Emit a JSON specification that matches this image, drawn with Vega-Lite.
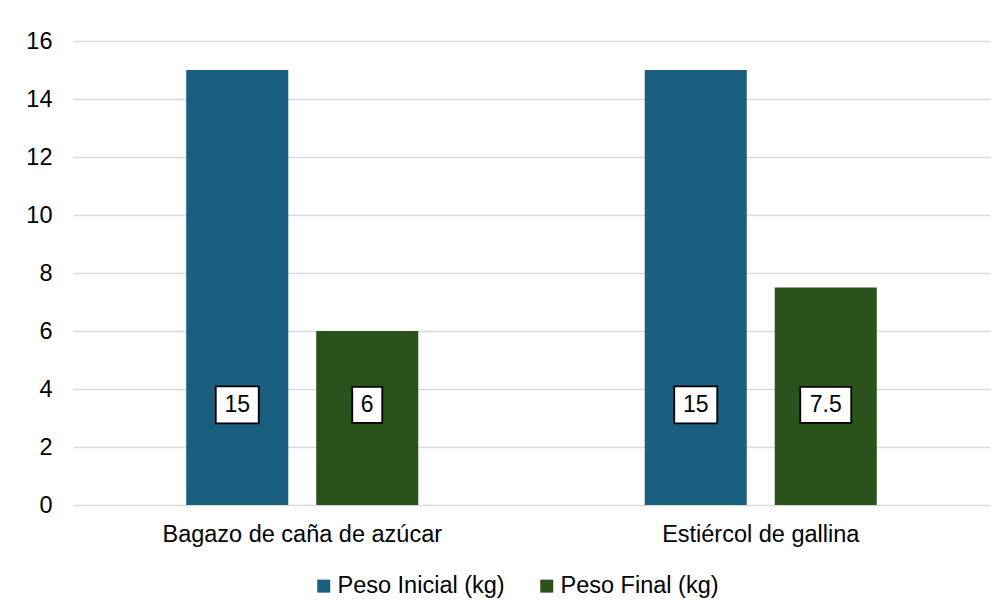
{
  "$schema": "https://vega.github.io/schema/vega-lite/v6.json",
  "width": 917,
  "height": 464,
  "autosize": {"type": "none"},
  "padding": {"left": 73, "top": 41, "right": 18, "bottom": 109},
  "background": "white",
  "config": {
    "font": "Liberation Sans",
    "view": {"stroke": null},
    "axis": {"labelColor": "#000000", "labelFont": "Liberation Sans", "labelFontSize": 23.5, "labelLimit": 500, "domain": false, "ticks": false, "tickSize": 0, "title": null},
    "legend": {"labelColor": "#000000", "labelFont": "Liberation Sans", "labelFontSize": 23.5, "labelLimit": 400}
  },
  "data": {
    "values": [
      {"material": "Bagazo de caña de azúcar", "tipo": "Peso Inicial (kg)", "peso": 15},
      {"material": "Bagazo de caña de azúcar", "tipo": "Peso Final (kg)", "peso": 6},
      {"material": "Estiércol de gallina", "tipo": "Peso Inicial (kg)", "peso": 15},
      {"material": "Estiércol de gallina", "tipo": "Peso Final (kg)", "peso": 7.5}
    ]
  },
  "encoding": {
    "x": {
      "field": "material",
      "type": "nominal",
      "sort": ["Bagazo de caña de azúcar", "Estiércol de gallina"],
      "scale": {"paddingInner": 0, "paddingOuter": 0},
      "axis": {"labelAngle": 0, "labelPadding": 36, "labelBaseline": "alphabetic", "grid": false, "labelLimit": 500}
    },
    "xOffset": {
      "field": "tipo",
      "type": "nominal",
      "sort": ["Peso Inicial (kg)", "Peso Final (kg)"],
      "scale": {"paddingInner": 0.215, "paddingOuter": 0.871}
    }
  },
  "layer": [
    {
      "mark": {"type": "bar"},
      "encoding": {
        "y": {
          "field": "peso",
          "type": "quantitative",
          "scale": {"domain": [0, 16], "nice": false},
          "axis": {"values": [0, 2, 4, 6, 8, 10, 12, 14, 16], "grid": true, "gridColor": "#d9d9d9", "gridWidth": 1.5, "labelPadding": 21}
        },
        "color": {
          "field": "tipo",
          "type": "nominal",
          "sort": ["Peso Inicial (kg)", "Peso Final (kg)"],
          "scale": {"domain": ["Peso Inicial (kg)", "Peso Final (kg)"], "range": ["#1A5F7F", "#2A521A"]},
          "legend": {
            "title": null,
            "orient": "none",
            "direction": "horizontal",
            "legendX": 239,
            "legendY": 533,
            "symbolType": "square",
            "symbolSize": 169,
            "symbolStrokeWidth": 0,
            "symbolOpacity": 1,
            "labelOffset": 2,
            "columnPadding": 30
          }
        }
      }
    },
    {
      "mark": {"type": "point", "filled": true, "fill": "white", "stroke": "black", "strokeWidth": 1.8, "opacity": 1, "size": 4},
      "encoding": {
        "y": {"datum": 3.45},
        "shape": {
          "field": "peso",
          "type": "nominal",
          "scale": {"domain": [15, 6, 7.5], "range": ["M-21.5,-18.5H21.5V18.5H-21.5Z", "M-15,-18H15V18H-15Z", "M-25.5,-18H25.5V18H-25.5Z"]},
          "legend": null
        }
      }
    },
    {
      "mark": {"type": "text", "font": "Liberation Sans", "fontSize": 23, "color": "#000000", "baseline": "middle", "align": "center"},
      "encoding": {
        "y": {"datum": 3.45},
        "text": {"field": "peso", "type": "quantitative"}
      }
    }
  ]
}
